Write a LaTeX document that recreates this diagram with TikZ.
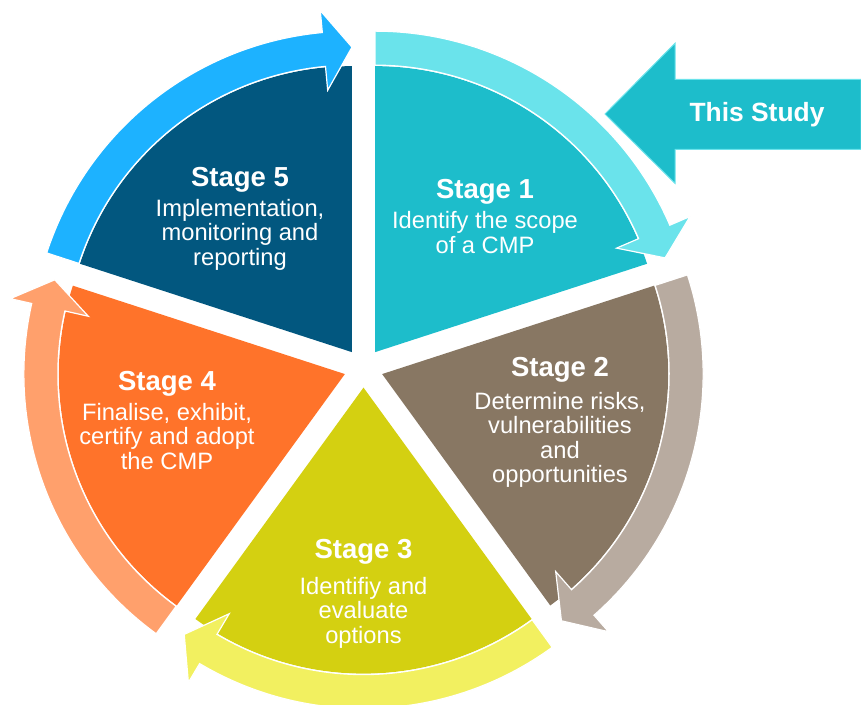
\documentclass[tikz,border=0pt]{standalone}
\usepackage{fontspec}
\setmainfont{Liberation Sans}
\usetikzlibrary{positioning}

\definecolor{wedgeA}{HTML}{1DBDCB}
\definecolor{ringA}{HTML}{6AE3EB}
\definecolor{wedgeB}{HTML}{887763}
\definecolor{ringB}{HTML}{B8ABA0}
\definecolor{wedgeC}{HTML}{D4D011}
\definecolor{ringC}{HTML}{F2F060}
\definecolor{wedgeD}{HTML}{FF732A}
\definecolor{ringD}{HTML}{FFA06C}
\definecolor{wedgeE}{HTML}{02577F}
\definecolor{ringE}{HTML}{1DB2FF}

\begin{document}
\begin{tikzpicture}[
  x=1pt,
  y=1pt,
  ring/.style={draw=white, line width=1.2pt, line join=miter},
  head/.style={anchor=base, text=white, font=\fontsize{27.5}{30}\selectfont\bfseries},
  body/.style={anchor=base, text=white, align=center, font=\fontsize{23.7}{24.5}\selectfont}
]
\useasboundingbox (0,0) rectangle (861,-704);

% Keil (Stufen)
\begin{scope}[shift={(363.5,-368)}]
\fill[wedgeA] (54:19.6) -- ++(90:286) arc[start angle=90, end angle=18, radius=286] -- cycle;
\fill[wedgeB] (-18:19.6) -- ++(18:286) arc[start angle=18, end angle=-54, radius=286] -- cycle;
\fill[wedgeC] (-90:19.6) -- ++(-54:286) arc[start angle=-54, end angle=-126, radius=286] -- cycle;
\fill[wedgeD] (-162:19.6) -- ++(-126:286) arc[start angle=-126, end angle=-198, radius=286] -- cycle;
\fill[wedgeE] (126:19.6) -- ++(162:286) arc[start angle=162, end angle=90, radius=286] -- cycle;

% Ringpfeile
\begin{scope}[shift={(54:19.6)}]
\fill[ringA, ring] (90:321) arc[start angle=90, end angle=23.3, radius=321] -- (23.3:343) -- (18:305) -- (23.3:263) -- (23.3:287) arc[start angle=23.3, end angle=90, radius=287] -- cycle;
\end{scope}
\begin{scope}[shift={(-18:19.6)}]
\fill[ringB, ring] (18:321) arc[start angle=18, end angle=-48.7, radius=321] -- (-48.7:343) -- (-54:305) -- (-48.7:263) -- (-48.7:287) arc[start angle=-48.7, end angle=18, radius=287] -- cycle;
\end{scope}
\begin{scope}[shift={(-90:19.6)}]
\fill[ringC, ring] (-54:321) arc[start angle=-54, end angle=-120.7, radius=321] -- (-120.7:343) -- (-126:305) -- (-120.7:263) -- (-120.7:287) arc[start angle=-120.7, end angle=-54, radius=287] -- cycle;
\end{scope}
\begin{scope}[shift={(-162:19.6)}]
\fill[ringD, ring] (-126:321) arc[start angle=-126, end angle=-192.7, radius=321] -- (-192.7:343) -- (-198:305) -- (-192.7:263) -- (-192.7:287) arc[start angle=-192.7, end angle=-126, radius=287] -- cycle;
\end{scope}
\begin{scope}[shift={(126:19.6)}]
\fill[ringE, ring] (162:321) arc[start angle=162, end angle=95.3, radius=321] -- (95.3:343) -- (90:305) -- (95.3:263) -- (95.3:287) arc[start angle=95.3, end angle=162, radius=287] -- cycle;
\end{scope}
\end{scope}

% Pfeil rechts oben
\fill[wedgeA, draw=ringA, line width=1pt] (605,-114) -- (675,-43.3) -- (675,-79.3) -- (861,-79.3) -- (861,-149.3) -- (675,-149.3) -- (675,-183.3) -- cycle;
\node[text=white, font=\fontsize{26.4}{28}\selectfont\bfseries] (study) at (757,-115) {This Study};

% Texte (Grundlinie der letzten Zeile)
\node[head] (s1) at (485,-198) {Stage 1};
\node[body] (t1) at (485,-253) {Identify the scope\\of a CMP};

\node[head] (s2) at (560,-376.7) {Stage 2};
\node[body] (t2) at (560,-482.7) {Determine risks,\\vulnerabilities\\and\\opportunities};

\node[head] (s3) at (363.5,-558.3) {Stage 3};
\node[body] (t3) at (363.5,-643.3) {Identifiy and\\evaluate\\options};

\node[head] (s4) at (167,-390) {Stage 4};
\node[body] (t4) at (167,-469.3) {Finalise, exhibit,\\certify and adopt\\the CMP};

\node[head] (s5) at (240,-186) {Stage 5};
\node[body] (t5) at (240,-265) {Implementation,\\monitoring and\\reporting};

\end{tikzpicture}
\end{document}
